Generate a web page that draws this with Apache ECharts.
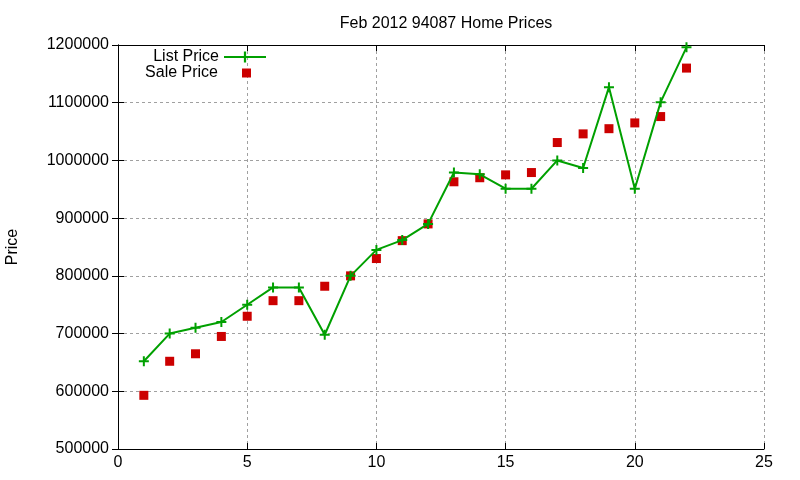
<!DOCTYPE html>
<html>
<head>
<meta charset="utf-8">
<script src="https://cdn.jsdelivr.net/npm/echarts@6/dist/echarts.min.js"></script>
<style>
  html, body { margin: 0; padding: 0; background: #fff; }
  #container_01 { width: 800px; height: 480px; }
</style>
</head>
<body>
<div id="container_01"></div>
<script>
// Data
const days = [1, 2, 3, 4, 5, 6, 7, 8, 9, 10, 11, 12, 13, 14, 15, 16, 17, 18, 19, 20, 21, 22];
const list_price = [652000, 700000, 710000, 720000, 750000, 780000, 780000, 698000, 800000, 845000, 862000, 890000,
                    979000, 976000, 951000, 951000, 1000000, 987000, 1127000, 951000, 1101000, 1196000];
const sale_price = [593000, 652000, 665000, 695000, 730000, 757000, 757000, 782000, 800000, 830000, 861000, 890000,
                    963000, 970000, 975000, 979000, 1031000, 1046000, 1055000, 1065000, 1076000, 1160000];
const x_ticks = [0, 25, 5];
const y_ticks = [500000, 1200000, 100000];

function pairs(xs, ys) {
    return xs.map(function (x, i) { return [x, ys[i]]; });
}

var chartDom = document.getElementById('container_01');
var myChart = echarts.init(chartDom, null, { renderer: 'canvas' });

var font = 'Liberation Sans, Arial, sans-serif';
var plus = 'path://M4,0H6V4H10V6H6V10H4V6H0V4H4Z';
var gridLine = { show: true, lineStyle: { color: '#a0a0a0', type: [3, 3], width: 1 } };
var frame = { show: true, lineStyle: { color: '#000', width: 1 } };
var tick = { show: true, inside: true, length: 6, lineStyle: { color: '#000' } };

var option = {
    animation: false,
    backgroundColor: '#fff',
    title: {
        text: 'Feb 2012 94087 Home Prices',
        left: 441,
        top: 11,
        textAlign: 'center',
        textStyle: { fontFamily: font, fontSize: 16, fontWeight: 'normal', color: '#000' }
    },
    grid: { left: 118, right: 36, top: 45, bottom: 31, containLabel: false, outerBoundsMode: 'none' },
    legend: [
        {
            right: 800 - 267 - 5,
            top: 44,
            align: 'right',
            itemWidth: 42,
            itemHeight: 14,
            textStyle: { fontFamily: font, fontSize: 16, color: '#000' },
            data: ['List Price']
        },
        {
            right: 800 - 256,
            top: 60,
            align: 'right',
            itemWidth: 9,
            itemHeight: 9,
            textStyle: { fontFamily: font, fontSize: 16, color: '#000', padding: [0, 19, 0, 0] },
            data: ['Sale Price']
        }
    ],
    xAxis: [
        {
            type: 'value',
            min: x_ticks[0], max: x_ticks[1], interval: x_ticks[2],
            axisLine: frame,
            axisTick: tick,
            axisLabel: { fontFamily: font, fontSize: 16, color: '#000', margin: 6 },
            splitLine: gridLine
        },
        {
            type: 'value', position: 'top',
            min: x_ticks[0], max: x_ticks[1], interval: x_ticks[2],
            axisLine: frame,
            axisTick: tick,
            axisLabel: { show: false },
            splitLine: { show: false }
        }
    ],
    yAxis: [
        {
            type: 'value',
            name: 'Price',
            nameLocation: 'middle',
            nameGap: 97,
            nameTextStyle: { fontFamily: font, fontSize: 16, color: '#000' },
            min: y_ticks[0], max: y_ticks[1], interval: y_ticks[2],
            axisLine: frame,
            axisTick: tick,
            axisLabel: {
                fontFamily: font, fontSize: 16, color: '#000', margin: 9,
                formatter: function (v) { return String(v); }
            },
            splitLine: gridLine
        },
        {
            type: 'value', position: 'right',
            min: y_ticks[0], max: y_ticks[1], interval: y_ticks[2],
            axisLine: frame,
            axisTick: tick,
            axisLabel: { show: false },
            splitLine: { show: false }
        }
    ],
    series: [
        {
            name: 'List Price',
            type: 'line',
            data: pairs(days, list_price),
            symbol: plus,
            symbolSize: 10,
            showSymbol: true,
            color: '#00a000',
            lineStyle: { color: '#00a000', width: 2 },
            itemStyle: { color: '#00a000', borderWidth: 0 }
        },
        {
            name: 'Sale Price',
            type: 'scatter',
            data: pairs(days, sale_price),
            symbol: 'rect',
            symbolSize: 9,
            itemStyle: { color: '#cc0000', opacity: 1 }
        }
    ]
};

myChart.setOption(option);
window.addEventListener('resize', myChart.resize);
</script>
</body>
</html>
